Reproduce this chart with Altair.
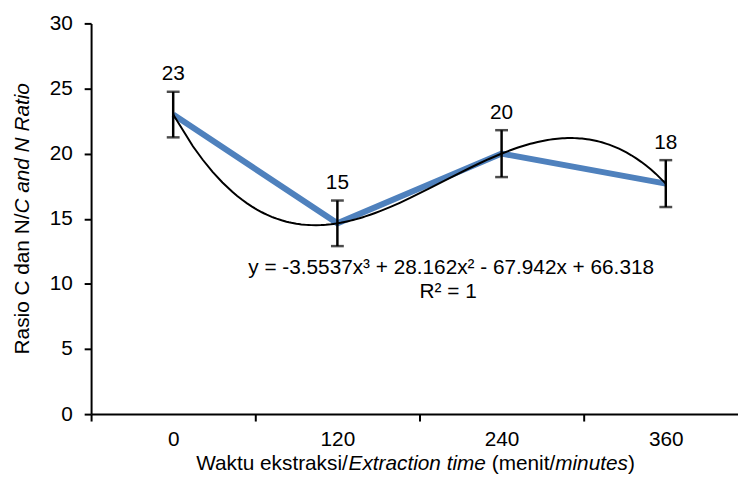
import altair as alt
import pandas as pd

# ---- data ----
times = ["0", "120", "240", "360"]          # extraction time (minutes), category labels
positions = [1, 2, 3, 4]                    # category index used by the Excel trendline
ratio = [23.0, 14.65, 20.0, 17.7]           # C/N ratio
error = [1.75, 1.75, 1.8, 1.8]              # error bar half-length
point_labels = ["23", "15", "20", "18"]     # data labels
y_ticks = [0, 5, 10, 15, 20, 25, 30]
equation = "y = -3.5537x³ + 28.162x² - 67.942x + 66.318"
r_squared = "R² = 1"
x_title_parts = [("Waktu ekstraksi/", False), ("Extraction time", True),
                 (" (menit/", False), ("minutes", True), (")", False)]
y_title_parts = [("Rasio C dan N/", False), ("C and N Ratio", True)]

# ---- style / layout ----
FONT = "Liberation Sans"
FS = 21
BLUE = "#4F81BD"
W, H = 654, 395
BAND = 166
PAD = {"left": 84, "top": 13, "right": 0, "bottom": 60}

# Arial / Liberation Sans advance widths (per 1000 em)
CW = {"W": 944, "a": 556, "k": 500, "t": 278, "u": 556, " ": 278, "e": 556, "s": 500,
      "r": 333, "i": 222, "/": 278, "E": 667, "x": 500, "c": 500, "o": 556, "n": 556,
      "m": 833, "(": 333, ")": 333, "R": 722, "C": 722, "d": 556, "N": 722}


def text_width(s):
    return sum(CW.get(ch, 556) for ch in s) * FS / 1000.0


df = pd.DataFrame({
    "pos": positions,
    "time": times,
    "ratio": ratio,
    "lo": [r - e for r, e in zip(ratio, error)],
    "hi": [r + e for r, e in zip(ratio, error)],
    "label": point_labels,
})

x_domain = [0.5, 0.5 + W / BAND]
label_expr = "[" + ",".join(repr(t) for t in times) + "][floor(datum.value)]"

x_axis = alt.Axis(values=[0.5, 1.5, 2.5, 3.5], labelExpr=label_expr, labelOffset=BAND / 2,
                  labelFlush=False, labelOverlap=False, labelBound=False,
                  tickSize=7, tickWidth=2, tickColor="black", domainColor="black",
                  domainWidth=2, labelFontSize=FS, labelFont=FONT, labelColor="black",
                  labelPadding=8, grid=False, title=None)
y_axis = alt.Axis(values=y_ticks, tickSize=7, tickWidth=2, tickColor="black",
                  domainColor="black", domainWidth=2, labelFontSize=FS, labelFont=FONT,
                  labelColor="black", labelPadding=12, grid=False, title=None)
x_scale = alt.Scale(domain=x_domain, nice=False, zero=False)
y_scale = alt.Scale(domain=[0, 30], nice=False)

base = alt.Chart(df)

line = base.mark_line(color=BLUE, strokeWidth=6).encode(
    x=alt.X("pos:Q", scale=x_scale, axis=x_axis),
    y=alt.Y("ratio:Q", scale=y_scale, axis=y_axis),
)

trend = base.transform_regression(
    "pos", "ratio", method="poly", order=3, extent=[1, 4]
).mark_line(color="black", strokeWidth=2).encode(
    x=alt.X("pos:Q", scale=x_scale, axis=x_axis),
    y=alt.Y("ratio:Q", scale=y_scale, axis=y_axis),
)

err_rule = base.mark_rule(color="black", strokeWidth=2.5).encode(
    x=alt.X("pos:Q", scale=x_scale, axis=x_axis),
    y=alt.Y("lo:Q", scale=y_scale, axis=y_axis),
    y2="hi:Q",
)

caps = base.transform_fold(["lo", "hi"], as_=["end", "val"]).mark_tick(
    orient="horizontal", size=13, thickness=2.5, color="black"
).encode(
    x=alt.X("pos:Q", scale=x_scale, axis=x_axis),
    y=alt.Y("val:Q", scale=y_scale, axis=y_axis),
)

labels = base.mark_text(dy=-41, fontSize=FS, font=FONT, color="black",
                        baseline="middle").encode(
    x=alt.X("pos:Q", scale=x_scale, axis=x_axis),
    y=alt.Y("ratio:Q", scale=y_scale, axis=y_axis),
    text="label:N",
)

layers = [line, trend, err_rule, caps, labels]

# equation annotation
for txt, px, py in [(equation, 364, 247), (r_squared, 361, 272)]:
    layers.append(
        alt.Chart(pd.DataFrame({"t": [txt]})).mark_text(
            fontSize=FS, font=FONT, color="black", align="center", baseline="middle"
        ).encode(x=alt.value(px), y=alt.value(py), text="t:N")
    )

# x title (mixed italic); spaces are advanced manually since SVG collapses them
total = sum(text_width(s) for s, _ in x_title_parts)
cx = 328 - total / 2
for s, it in x_title_parts:
    lead = len(s) - len(s.lstrip(" "))
    cx += lead * text_width(" ")
    core = s.strip(" ")
    layers.append(
        alt.Chart(pd.DataFrame({"t": [core]})).mark_text(
            fontSize=FS, font=FONT, color="black", align="left", baseline="middle",
            fontStyle="italic" if it else "normal"
        ).encode(x=alt.value(cx), y=alt.value(446), text="t:N")
    )
    cx += text_width(core)

# y title (mixed italic, rotated)
total = sum(text_width(s) for s, _ in y_title_parts)
cy = H / 2 + total / 2
for s, it in y_title_parts:
    layers.append(
        alt.Chart(pd.DataFrame({"t": [s]})).mark_text(
            fontSize=FS, font=FONT, color="black", align="left", baseline="middle",
            angle=270, fontStyle="italic" if it else "normal"
        ).encode(x=alt.value(-69), y=alt.value(cy), text="t:N")
    )
    cy -= text_width(s)

chart = alt.layer(*layers).properties(
    width=W, height=H, padding=PAD,
    autosize=alt.AutoSizeParams(type="none"),
).configure_view(strokeWidth=0)

chart.save("out.html", embed_options={"renderer": "svg", "actions": False})
